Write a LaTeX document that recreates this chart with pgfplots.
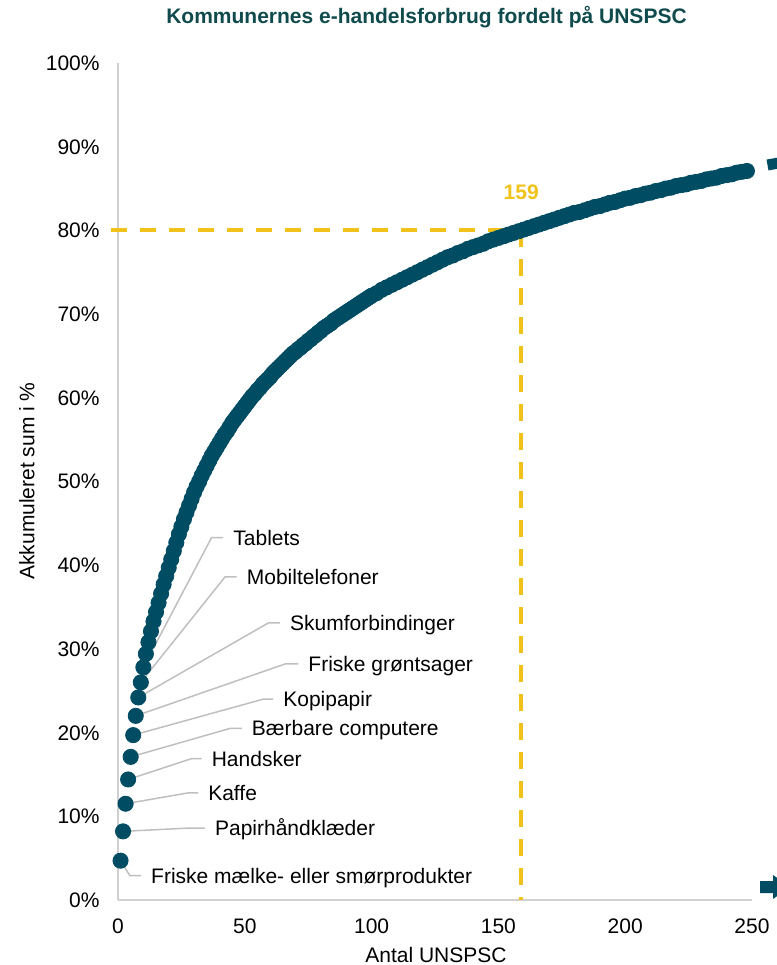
\documentclass[border=0pt]{standalone}
\usepackage{fontspec}
\setmainfont{Liberation Sans}
\usepackage{pgfplots}
\usepackage{pgfplotstable}
\pgfplotsset{compat=1.18}

\definecolor{curve}{HTML}{004C63}
\definecolor{ttl}{HTML}{0F4B4D}
\definecolor{gold}{HTML}{F0C21B}
\definecolor{leader}{HTML}{BFBFBF}
\definecolor{axgrey}{HTML}{D0D0D0}
\newcommand{\f}{\fontsize{10.5}{12.6}\selectfont}

% cumulative share (%) by number of UNSPSC codes
\pgfplotstableread{
x y
1 4.7
2 8.2
3 11.5
4 14.4
5 17.1
6 19.7
7 22.0
8 24.2
9 26.0
10 27.8
11 29.4
12 30.8
13 32.1
14 33.3
15 34.4
16 35.5
17 36.6
18 37.7
19 38.7
20 39.7
21 40.7
22 41.7
23 42.7
24 43.7
25 44.6
26 45.5
27 46.3
28 47.1
29 47.9
30 48.7
31 49.4
32 50.0
33 50.7
34 51.3
35 51.9
36 52.5
37 53.1
38 53.6
39 54.1
40 54.6
41 55.1
42 55.6
43 56.0
44 56.5
45 57.0
46 57.4
47 57.8
48 58.2
49 58.6
50 59.0
51 59.4
52 59.8
53 60.2
54 60.5
55 60.9
56 61.2
57 61.6
58 61.9
59 62.2
60 62.5
61 62.9
62 63.2
63 63.5
64 63.8
65 64.1
66 64.4
67 64.7
68 65.0
69 65.3
70 65.5
71 65.8
72 66.0
73 66.3
74 66.5
75 66.8
76 67.0
77 67.3
78 67.5
79 67.8
80 68.0
81 68.3
82 68.5
83 68.7
84 68.9
85 69.2
86 69.4
87 69.6
88 69.8
89 70.0
90 70.2
91 70.4
92 70.6
93 70.8
94 71.0
95 71.2
96 71.4
97 71.6
98 71.8
99 72.0
100 72.2
102 72.5
104 72.9
106 73.2
108 73.5
110 73.8
112 74.1
114 74.4
116 74.7
118 75.0
120 75.3
122 75.6
124 75.9
126 76.2
128 76.5
130 76.8
132 77.0
134 77.3
136 77.5
138 77.8
140 78.0
142 78.2
144 78.4
146 78.7
148 78.9
150 79.1
152 79.3
154 79.5
156 79.7
158 79.9
160 80.1
162 80.3
164 80.5
166 80.7
168 80.9
170 81.1
172 81.3
174 81.5
176 81.7
178 81.9
180 82.1
182 82.2
184 82.4
186 82.6
188 82.8
190 82.9
192 83.1
194 83.3
196 83.4
198 83.6
200 83.8
202 83.9
204 84.1
206 84.2
208 84.4
210 84.5
212 84.7
214 84.8
216 85.0
218 85.1
220 85.3
222 85.4
224 85.5
226 85.7
228 85.8
230 85.9
232 86.1
234 86.2
236 86.3
238 86.5
240 86.6
242 86.7
244 86.9
246 87.0
248 87.1
}\cumdata

\tikzset{lab/.style={anchor=west, inner sep=0pt, xshift=4.7pt, font=\f,
  text=black, text height=7.5pt, text depth=0pt}}

\begin{document}
\begin{tikzpicture}
\begin{axis}[
  at={(0,0)}, anchor=south west,
  scale only axis, width=317pt, height=418.5pt,
  xmin=0, xmax=250, ymin=0, ymax=100,
  axis lines*=left,
  axis line style={draw=axgrey, line width=0.7pt},
  xtick={0,50,...,250}, ytick={0,10,...,100},
  major tick length=0pt,
  /pgf/number format/assume math mode=true,
  yticklabel={\pgfmathprintnumber{\tick}\%},
  ticklabel style={font=\f, inner sep=0pt, text height=7.5pt, text depth=0pt},
  yticklabel style={xshift=-9pt},
  xticklabel style={yshift=-9pt},
  clip=false,
]
\addplot[only marks, mark=*, mark size=3.8pt,
  mark options={draw=curve, fill=curve}] table[x=x, y=y] {\cumdata};

% leader lines to the first ten codes
\draw[leader, line width=0.75pt] (axis cs:1,4.7) -- (axis cs:4.7,2.9) -- (axis cs:9.1,2.9) node[lab] {Friske mælke- eller smørprodukter};
\draw[leader, line width=0.75pt] (axis cs:2,8.2) -- (axis cs:28.4,8.6) -- (axis cs:34.3,8.6) node[lab] {Papirhåndklæder};
\draw[leader, line width=0.75pt] (axis cs:3,11.5) -- (axis cs:27.7,12.8) -- (axis cs:31.6,12.8) node[lab] {Kaffe};
\draw[leader, line width=0.75pt] (axis cs:4,14.4) -- (axis cs:29.1,16.9) -- (axis cs:33.0,16.9) node[lab] {Handsker};
\draw[leader, line width=0.75pt] (axis cs:5,17.1) -- (axis cs:44.2,20.5) -- (axis cs:48.8,20.5) node[lab] {Bærbare computere};
\draw[leader, line width=0.75pt] (axis cs:6,19.7) -- (axis cs:57.3,24.0) -- (axis cs:61.2,24.0) node[lab] {Kopipapir};
\draw[leader, line width=0.75pt] (axis cs:7,22.0) -- (axis cs:65.9,28.2) -- (axis cs:71.1,28.2) node[lab] {Friske grøntsager};
\draw[leader, line width=0.75pt] (axis cs:8,24.2) -- (axis cs:59.3,33.1) -- (axis cs:63.9,33.1) node[lab] {Skumforbindinger};
\draw[leader, line width=0.75pt] (axis cs:9,26.0) -- (axis cs:42.2,38.6) -- (axis cs:46.8,38.6) node[lab] {Mobiltelefoner};
\draw[leader, line width=0.75pt] (axis cs:10,27.8) -- (axis cs:36.9,43.3) -- (axis cs:41.5,43.3) node[lab] {Tablets};

% 80 % marker
\draw[gold, line width=2pt, dash pattern=on 8.3pt off 6.2pt] (axis cs:-2.8,80) -- (axis cs:160.5,80);
\draw[gold, line width=2pt, dash pattern=on 8.3pt off 6.2pt] (axis cs:159,80) -- (axis cs:159,0);
\node[text=gold, font=\f\bfseries] at (axis cs:159,84.5) {159};
\end{axis}

\node[text=ttl, font=\f\bfseries] at (154.25pt,441.5pt) {Kommunernes e-handelsforbrug fordelt på UNSPSC};
\node[rotate=90, font=\f, text height=7.5pt, text depth=0pt] at (-45.5pt,209.5pt) {Akkumuleret sum i \%};
\node[font=\f, text height=7.5pt, text depth=0pt] at (159pt,-27.5pt) {Antal UNSPSC};

% cut-off shapes at the right edge
\fill[curve] (321pt,3.5pt) -- (327.5pt,3.5pt) -- (327.5pt,0.5pt) -- (336pt,6.5pt)
  -- (327.5pt,12.5pt) -- (327.5pt,9.5pt) -- (321pt,9.5pt) -- cycle;
\draw[curve, line width=5.5pt] (324.75pt,367.5pt) -- (336pt,369.5pt);

\pgfresetboundingbox
\path[use as bounding box] (-59pt,-32.5pt) rectangle (329.5pt,450pt);
\end{tikzpicture}
\end{document}
